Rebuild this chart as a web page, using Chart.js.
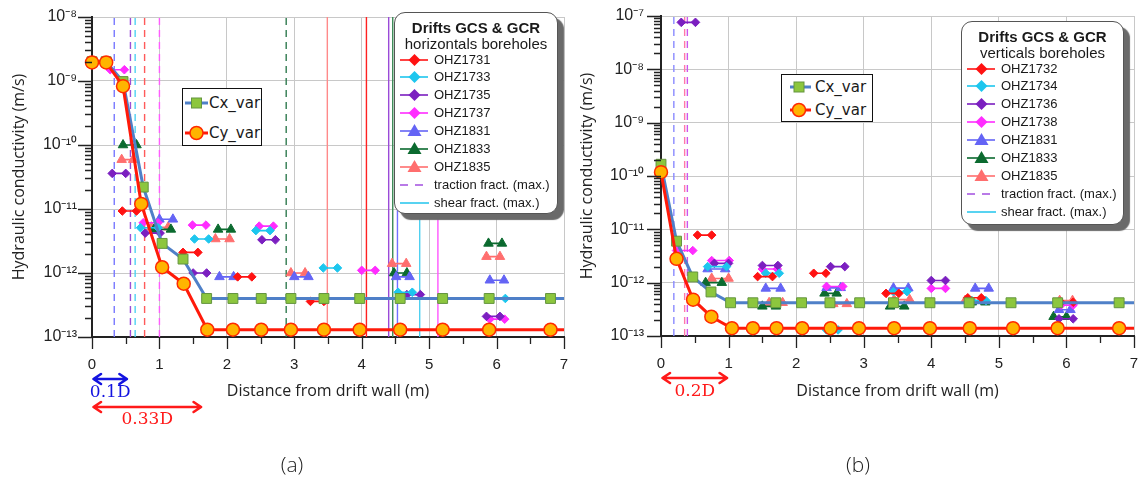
<!DOCTYPE html>
<html><head><meta charset="utf-8">
<script src="https://cdn.jsdelivr.net/npm/chart.js@4.4.1/dist/chart.umd.min.js"></script>
<style>
html,body{margin:0;padding:0;background:#fff;}
#wrap{position:relative;width:1142px;height:479px;overflow:hidden;font-family:"Liberation Sans",Arial,sans-serif;color:#1a1a1a;}
canvas{position:absolute;top:0;}
#cA{left:0;} #cB{left:572px;}
.bl{position:absolute;background:#fff;border:1.3px solid #555;border-radius:11px;box-shadow:6px 6px 1px #6a6a6a;box-sizing:border-box;}
.bl .lt{position:absolute;left:0;width:100%;text-align:center;font-weight:bold;font-size:15px;line-height:18px;}
.bl .ls{position:absolute;left:0;width:100%;text-align:center;font-size:15px;line-height:18px;}
.bl .row{position:absolute;left:0;height:18px;width:100%;}
.bl .row svg{position:absolute;left:0;top:0;}
.bl .row span{position:absolute;left:39px;top:0;font-size:13px;line-height:18px;white-space:nowrap;}
.cl{position:absolute;background:#fff;border:1.5px solid #111;box-sizing:border-box;}
.cl .row{position:absolute;left:0;width:100%;height:24px;}
.cl .row svg{position:absolute;left:0;top:0;}
.cl .row span{position:absolute;top:0;font-family:"DejaVu Sans",sans-serif;font-size:15px;line-height:24px;white-space:nowrap;}
.pl{position:absolute;font-family:"Open Sans",sans-serif;font-weight:300;font-size:21px;line-height:24px;transform:translateX(-50%);color:#222;}
</style>
</head><body>
<div id="wrap">
<canvas id="cA" width="572" height="479"></canvas>
<canvas id="cB" width="570" height="479"></canvas>
<div id="cxA" class="cl" style="left:182px;top:88px;width:80px;height:58px"></div>
<div id="cxB" class="cl" style="left:781px;top:74px;width:92px;height:48px"></div>
<div id="lgA" class="bl" style="left:394px;top:12px;width:164px;height:202px"></div>
<div id="lgB" class="bl" style="left:961px;top:21px;width:163px;height:204px"></div>
<div class="pl" style="left:292px;top:452px">(a)</div>
<div class="pl" style="left:858px;top:452px">(b)</div>
</div>
<script>
// ---------------- DATA ----------------
const xTicks = [0,0.5,1,1.5,2,2.5,3,3.5,4,4.5,5,5.5,6,6.5,7];
const decadesA = [-13,-12,-11,-10,-9,-8];
const decadesB = [-13,-12,-11,-10,-9,-8,-7];

// (a) horizontal boreholes - model curves
const cxDistA = [0,0.21,0.46,0.76,1.04,1.35,1.70,2.09,2.51,2.95,3.44,3.97,4.57,5.20,5.89,6.80,7.40];
const cxA     = [2.0e-9,2.0e-9,9.8e-10,2.2e-11,2.9e-12,1.65e-12,4.0e-13,4.0e-13,4.0e-13,4.0e-13,4.0e-13,4.0e-13,4.0e-13,4.0e-13,4.0e-13,4.0e-13,4.0e-13];
const cyDistA = [0,0.21,0.46,0.73,1.04,1.36,1.71,2.09,2.51,2.95,3.44,3.97,4.57,5.20,5.89,6.80,7.40];
const cyA     = [1.95e-9,1.95e-9,8.3e-10,1.2e-11,1.23e-12,6.8e-13,1.3e-13,1.3e-13,1.3e-13,1.3e-13,1.3e-13,1.3e-13,1.3e-13,1.3e-13,1.3e-13,1.3e-13,1.3e-13];

// (a) borehole measurements: [from, to, K]
const A_OHZ1731 = [[0.45,0.66,9.3e-12],[1.35,1.57,2.1e-12],[2.16,2.37,8.7e-13],[3.24,3.44,3.6e-13]];
const A_OHZ1733 = [[0.72,0.98,5.1e-12],[1.52,1.73,3.4e-12],[2.43,2.64,4.6e-12],[3.43,3.64,1.2e-12],[4.54,4.75,5.0e-13],[5.90,6.13,4.0e-13]];
const A_OHZ1735 = [[0.30,0.50,3.6e-11],[0.79,1.01,4.2e-12],[1.50,1.70,1.0e-12],[2.52,2.72,3.3e-12],[4.67,4.87,4.6e-13],[5.85,6.05,2.1e-13]];
const A_OHZ1737 = [[0.27,0.48,1.5e-9],[0.76,0.98,6.1e-12],[1.49,1.69,5.6e-12],[2.48,2.69,5.4e-12],[4.00,4.20,1.1e-12],[5.90,6.12,1.9e-13]];
const A_OHZ1831 = [[1.00,1.20,6.9e-12],[1.89,2.10,8.7e-13],[3.00,3.21,8.7e-13],[4.51,4.71,8.7e-13],[5.90,6.11,7.7e-13]];
const A_OHZ1833 = [[0.46,0.66,1.0e-10],[0.92,1.17,4.8e-12],[1.87,2.06,4.8e-12],[4.48,4.67,1.0e-12],[5.88,6.08,2.9e-12]];
const A_OHZ1835 = [[0.44,0.61,5.9e-11],[0.88,1.13,5.2e-12],[1.83,2.04,3.4e-12],[2.95,3.16,1.0e-12],[4.45,4.66,1.4e-12],[5.85,6.05,1.8e-12]];
// (a) fracture positions (m)
const tractionA = [0.33,0.57,0.78,1.00,2.88];
const shearA_dashed = [0.64];
const solidA = [3.49,4.07,4.40,4.46,4.53,4.86,5.13];

// (b) vertical boreholes - model curves
const cxDistB = [0,0.23,0.47,0.74,1.03,1.36,1.70,2.08,2.50,2.94,3.44,3.98,4.56,5.18,5.87,6.78,7.40];
const cxB     = [1.66e-10,6.0e-12,1.28e-12,6.7e-13,4.2e-13,4.2e-13,4.2e-13,4.2e-13,4.2e-13,4.2e-13,4.2e-13,4.2e-13,4.2e-13,4.2e-13,4.2e-13,4.2e-13,4.2e-13];
const cyDistB = [0,0.23,0.475,0.745,1.05,1.36,1.71,2.09,2.51,2.93,3.45,3.98,4.57,5.21,5.87,6.78,7.40];
const cyB     = [1.18e-10,2.8e-12,4.8e-13,2.3e-13,1.4e-13,1.4e-13,1.4e-13,1.4e-13,1.4e-13,1.4e-13,1.4e-13,1.4e-13,1.4e-13,1.4e-13,1.4e-13,1.4e-13,1.4e-13];

const B_OHZ1732 = [[0.54,0.75,7.8e-12],[1.43,1.65,1.3e-12],[2.26,2.44,1.5e-12],[3.33,3.52,6.3e-13],[4.54,4.74,5.2e-13],[5.92,6.10,4.3e-13]];
const B_OHZ1734 = [[0.69,0.97,2.0e-12],[1.55,1.75,1.5e-12],[2.45,2.62,1.3e-13],[3.44,3.64,6.8e-13],[4.60,4.81,4.6e-13]];
const B_OHZ1736 = [[0.30,0.51,7.6e-8],[0.79,1.00,2.3e-12],[1.50,1.73,2.1e-12],[2.51,2.72,2.0e-12],[4.00,4.21,1.1e-12],[5.89,6.10,2.1e-13]];
const B_OHZ1738 = [[0.23,0.47,4.0e-12],[0.75,1.01,2.6e-12],[1.50,1.72,1.8e-12],[2.45,2.69,8.5e-13],[4.00,4.21,7.8e-13],[5.92,6.10,3.8e-13]];
const B_OHZ1831 = [[0.69,0.95,1.8e-12],[1.55,1.77,7.8e-13],[2.45,2.66,8.0e-13],[3.44,3.66,7.9e-13],[4.65,4.85,7.8e-13],[5.89,6.06,3.1e-13]];
const B_OHZ1833 = [[0.66,0.90,1.0e-12],[1.50,1.70,3.6e-13],[2.42,2.60,6.3e-13],[3.39,3.60,3.6e-13],[4.60,4.80,4.3e-13],[5.81,6.00,2.3e-13]];
const B_OHZ1835 = [[0.75,1.00,1.2e-12],[1.60,1.80,4.2e-13],[2.55,2.75,4.0e-13],[3.45,3.68,4.8e-13],[4.50,4.72,4.6e-13],[5.90,6.09,4.6e-13]];
const tractionB = [0.19,0.35,0.39];

// annotations (distance spans, m)
const spansA = [[0,0.54,'0.1D'],[0,1.64,'0.33D']];
const spansB = [[0,1.00,'0.2D']];

const namesA = ['OHZ1731','OHZ1733','OHZ1735','OHZ1737','OHZ1831','OHZ1833','OHZ1835'];
const namesB = ['OHZ1732','OHZ1734','OHZ1736','OHZ1738','OHZ1831','OHZ1833','OHZ1835'];

// ---------------- STYLE ----------------
const BORE_COLORS = ['#ff1212','#1dc6ee','#7b1fc0','#ff2cff','#6464f5','#0b6a2f','#ff6e6e'];
const BORE_SHAPES = ['rectRot','rectRot','rectRot','rectRot','triangle','triangle','triangle'];
const tractionColorsA = ['#7878ff','#9b4fd6','#ff5a5a','#ff5cff','#2f7a4f'];
const shearColorsA = ['#4fd2f2'];
const solidColorsA = ['#ff8a8a','#ff2020','#9a4ad8','#3a8a55','#7070ff','#4fd0f0','#ff55ff'];
const tractionColorsB = ['#8a8aff','#ff7aa8','#cc55ee'];
const GRID = '#c8c8c8';
const NONE = 'rgba(0,0,0,0)';
const CX_LINE='#4f80c8', CX_FILL='#8cc63e', CX_EDGE='#64953f';
const CY_LINE='#ff1a0a', CY_FILL='#ffb400', CY_EDGE='#ff2a00';

function isMajorY(v){const l=Math.log10(v);return Math.abs(l-Math.round(l))<1e-6;}
const SUP={'-':'\u207B','0':'\u2070','1':'\u00B9','2':'\u00B2','3':'\u00B3','4':'\u2074','5':'\u2075','6':'\u2076','7':'\u2077','8':'\u2078','9':'\u2079'};
function sup(n){return String(n).split('').map(c=>SUP[c]).join('');}
function yTickValues(decs){const out=[];decs.forEach((e,i)=>{for(let k=1;k<=9;k++){if(i===decs.length-1&&k>1)break;out.push(Number((k*Math.pow(10,e)).toPrecision(3)));}});return out;}
function segData(list){const d=[];list.forEach(([a,b,k],i)=>{if(i)d.push({x:a,y:null});d.push({x:a,y:k},{x:b,y:k});});return d;}
function pts(xs,ys){return xs.map((x,i)=>({x:x,y:ys[i]}));}

const tickMarks={id:'tickMarks',afterDraw(chart){
  const ctx=chart.ctx,ca=chart.chartArea,xs=chart.scales.x,ys=chart.scales.y;
  ctx.save();ctx.strokeStyle='#222';ctx.lineWidth=1.3;ctx.beginPath();
  ys.ticks.forEach(t=>{const p=Math.round(ys.getPixelForValue(t.value))+0.5;const L=isMajorY(t.value)?14:7;ctx.moveTo(ca.left-L,p);ctx.lineTo(ca.left,p);});
  xs.ticks.forEach(t=>{const p=Math.round(xs.getPixelForValue(t.value))+0.5;const L=Number.isInteger(t.value)?12:7;ctx.moveTo(p,ca.bottom);ctx.lineTo(p,ca.bottom+L);});
  ctx.stroke();ctx.restore();
}};
const spanArrows={id:'spanArrows',afterDraw(chart,args,opts){
  const ctx=chart.ctx,xs=chart.scales.x,ca=chart.chartArea;
  (opts.items||[]).forEach((it,i)=>{
    const st=opts.styles[i];
    const x1=xs.getPixelForValue(it[0]),x2=xs.getPixelForValue(it[1]),y=ca.bottom+st.dy;
    ctx.save();ctx.strokeStyle=st.color;ctx.fillStyle=st.color;ctx.lineWidth=2.6;ctx.lineCap='round';ctx.lineJoin='round';
    ctx.beginPath();ctx.moveTo(x1+2,y);ctx.lineTo(x2-2,y);
    ctx.moveTo(x1+9,y-5);ctx.lineTo(x1+1.5,y);ctx.lineTo(x1+9,y+5);
    ctx.moveTo(x2-9,y-5);ctx.lineTo(x2-1.5,y);ctx.lineTo(x2-9,y+5);ctx.stroke();
    ctx.font='17px "DejaVu Serif", serif';ctx.textAlign='center';ctx.textBaseline='middle';
    ctx.fillText(it[2],(x1+x2)/2,y+st.ldy);
    ctx.restore();
  });
}};

function makeChart(id,cfg){
  const ds=[];
  ds.push({data:pts(cfg.cyDist,cfg.cy),borderColor:CY_LINE,borderWidth:3,pointStyle:'circle',pointRadius:6.5,pointBackgroundColor:CY_FILL,pointBorderColor:CY_EDGE,pointBorderWidth:1.5,order:0,clip:{left:12,top:12,right:0,bottom:12}});
  ds.push({data:pts(cfg.cxDist,cfg.cx),borderColor:CX_LINE,borderWidth:3,pointStyle:'rect',pointRadius:7,pointBackgroundColor:CX_FILL,pointBorderColor:CX_EDGE,pointBorderWidth:1,order:1,clip:{left:12,top:12,right:0,bottom:12}});
  cfg.bores.forEach((b,i)=>{ds.push({data:segData(b),borderColor:BORE_COLORS[i],borderWidth:1.6,pointStyle:BORE_SHAPES[i],pointRadius:BORE_SHAPES[i]==='triangle'?5.5:4.3,pointBackgroundColor:BORE_COLORS[i],pointBorderColor:BORE_COLORS[i],pointBorderWidth:1,spanGaps:false,order:2,clip:10});});
  cfg.vlines.forEach(v=>{ds.push({data:[{x:v.x,y:cfg.ymin},{x:v.x,y:cfg.ymax}],borderColor:v.c,borderWidth:1.4,borderDash:v.d?[7,5]:[],pointRadius:0,order:3});});
  const yt=yTickValues(cfg.decades);
  return new Chart(document.getElementById(id),{
    type:'line',data:{datasets:ds},
    options:{responsive:false,animation:false,events:[],
      layout:{padding:{left:0,right:cfg.padR,top:cfg.padT,bottom:0}},
      plugins:{legend:{display:false},tooltip:{enabled:false},spanArrows:{items:cfg.spans,styles:cfg.spanStyles}},
      scales:{
        x:{type:'linear',min:0,max:7,
          afterBuildTicks:s=>{s.ticks=xTicks.map(v=>({value:v}));},
          afterFit:s=>{s.height=cfg.xh;},
          grid:{color:c=>(c.tick&&Number.isInteger(c.tick.value))?GRID:NONE,lineWidth:1,drawTicks:true,tickLength:19,tickColor:NONE},
          border:{color:'#222',width:2},
          ticks:{autoSkip:false,maxRotation:0,padding:0,color:'#222',font:{family:'"Liberation Sans", Arial, sans-serif',size:15},callback:v=>Number.isInteger(v)?String(v):''},
          title:{display:true,text:'Distance from drift wall (m)',color:'#222',font:{family:'"Open Sans", sans-serif',size:16},padding:{top:0,bottom:77.5}}
        },
        y:{type:'logarithmic',min:cfg.ymin,max:cfg.ymax,
          afterBuildTicks:s=>{s.ticks=yt.map(v=>({value:v}));},
          afterFit:s=>{s.width=cfg.yw;},
          grid:{color:c=>(c.tick&&isMajorY(c.tick.value))?GRID:NONE,lineWidth:1,drawTicks:true,tickLength:cfg.ypad,tickColor:NONE},
          border:{color:'#222',width:2},
          ticks:{autoSkip:false,padding:0,color:'#222',font:{family:'"Liberation Sans", Arial, sans-serif',size:16},callback:v=>isMajorY(v)?'10'+sup(Math.round(Math.log10(v))):''},
          title:{display:true,text:'Hydraulic conductivity (m/s)',color:'#222',font:{family:'"Open Sans", sans-serif',size:16},padding:{top:cfg.ytp,bottom:0}}
        }
      }
    },
    plugins:[tickMarks,spanArrows]
  });
}

const vlA=[];
tractionA.forEach((x,i)=>vlA.push({x:x,c:tractionColorsA[i],d:true}));
shearA_dashed.forEach((x,i)=>vlA.push({x:x,c:shearColorsA[i],d:true}));
solidA.forEach((x,i)=>vlA.push({x:x,c:solidColorsA[i],d:false}));
const vlB=tractionB.map((x,i)=>({x:x,c:tractionColorsB[i],d:true}));

makeChart('cA',{cxDist:cxDistA,cx:cxA,cyDist:cyDistA,cy:cyA,
  bores:[A_OHZ1731,A_OHZ1733,A_OHZ1735,A_OHZ1737,A_OHZ1831,A_OHZ1833,A_OHZ1835],
  vlines:vlA,ymin:1e-13,ymax:1e-8,decades:decadesA,padR:6,padT:17,xh:142,yw:92,ypad:15,ytp:9.4,
  spans:spansA,spanStyles:[{color:'#1414e0',dy:42,ldy:14},{color:'#ff1a1a',dy:70,ldy:13}]});
makeChart('cB',{cxDist:cxDistB,cx:cxB,cyDist:cyDistB,cy:cyB,
  bores:[B_OHZ1732,B_OHZ1734,B_OHZ1736,B_OHZ1738,B_OHZ1831,B_OHZ1833,B_OHZ1835],
  vlines:vlB,ymin:1e-13,ymax:1e-7,decades:decadesB,padR:5,padT:16,xh:143,yw:89,ypad:17,ytp:5.4,
  spans:spansB,spanStyles:[{color:'#ff1a1a',dy:42,ldy:14}]});

// ---------------- LEGENDS ----------------
function markerSVG(shape,color,cx,cy){
  if(shape==='rectRot')return `<polygon points="${cx-6},${cy} ${cx},${cy-6} ${cx+6},${cy} ${cx},${cy+6}" fill="${color}"/>`;
  return `<polygon points="${cx},${cy-7} ${cx+7},${cy+5} ${cx-7},${cy+5}" fill="${color}"/>`;
}
function boreLegend(id,title,sub,names,subTop){
  const el=document.getElementById(id);
  let h=`<div class="lt" style="top:6px">${title}</div><div class="ls" style="top:${subTop}px">${sub}</div>`;
  names.forEach((n,i)=>{
    h+=`<div class="row" style="top:${37.5+i*17.95}px"><svg width="40" height="18"><line x1="5" y1="9" x2="33" y2="9" stroke="${BORE_COLORS[i]}" stroke-width="1.6"/>${markerSVG(BORE_SHAPES[i],BORE_COLORS[i],19.5,9)}</svg><span>${n}</span></div>`;
  });
  const k=names.length;
  h+=`<div class="row" style="top:${37.5+k*17.95}px"><svg width="40" height="18"><line x1="5" y1="9" x2="34" y2="9" stroke="#a24fe0" stroke-width="1.6" stroke-dasharray="8,7"/></svg><span>traction fract. (max.)</span></div>`;
  h+=`<div class="row" style="top:${37.5+(k+1)*17.95}px"><svg width="40" height="18"><line x1="5" y1="9" x2="34" y2="9" stroke="#2fc8ee" stroke-width="1.6"/></svg><span>shear fract. (max.)</span></div>`;
  el.innerHTML=h;
}
boreLegend('lgA','Drifts GCS &amp; GCR','horizontals boreholes',namesA,22);
boreLegend('lgB','Drifts GCS &amp; GCR','verticals boreholes',namesB,21.5);

function cxLegend(id,rowTops,lx1,lx2,mx,tx){
  const el=document.getElementById(id);
  const sq=`<rect x="${mx-5}" y="7" width="10" height="10" fill="${CX_FILL}" stroke="${CX_EDGE}" stroke-width="1"/>`;
  const ci=`<circle cx="${mx}" cy="12" r="6.5" fill="${CY_FILL}" stroke="${CY_EDGE}" stroke-width="1.5"/>`;
  el.innerHTML=`<div class="row" style="top:${rowTops[0]}px"><svg width="${tx}" height="24"><line x1="${lx1}" y1="12" x2="${lx2}" y2="12" stroke="${CX_LINE}" stroke-width="3"/>${sq}</svg><span style="left:${tx}px">Cx_var</span></div>`+
    `<div class="row" style="top:${rowTops[1]}px"><svg width="${tx}" height="24"><line x1="${lx1}" y1="12" x2="${lx2}" y2="12" stroke="${CY_LINE}" stroke-width="3"/>${ci}</svg><span style="left:${tx}px">Cy_var</span></div>`;
}
cxLegend('cxA',[2.3,31.7],2,25,13.5,26);
cxLegend('cxB',[0.3,23],8,29,17,33);
</script>
</body></html>
